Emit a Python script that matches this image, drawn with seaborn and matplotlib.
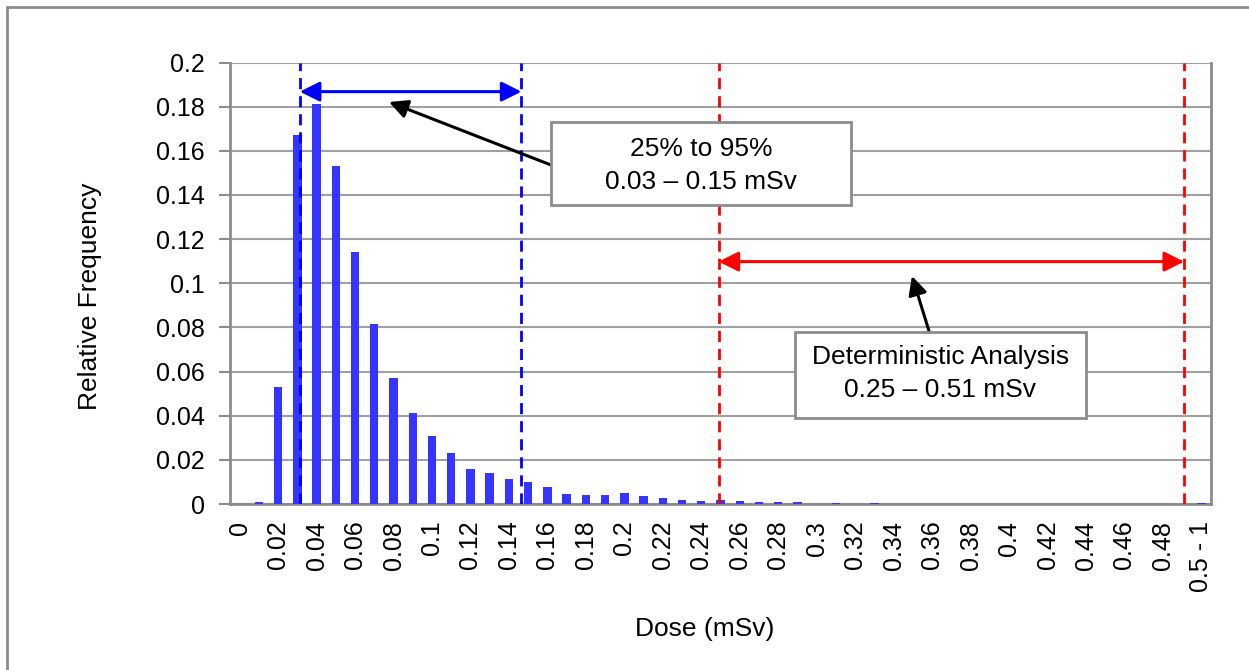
import matplotlib
matplotlib.use("Agg")
import matplotlib.pyplot as plt
import seaborn as sns
import pandas as pd
from matplotlib.patches import Rectangle, FancyArrowPatch
from matplotlib.lines import Line2D

# ---- data ----
dose_labels = ["0", "0.01", "0.02", "0.03", "0.04", "0.05", "0.06", "0.07", "0.08", "0.09",
               "0.1", "0.11", "0.12", "0.13", "0.14", "0.15", "0.16", "0.17", "0.18", "0.19",
               "0.2", "0.21", "0.22", "0.23", "0.24", "0.25", "0.26", "0.27", "0.28", "0.29",
               "0.3", "0.31", "0.32", "0.33", "0.34", "0.35", "0.36", "0.37", "0.38", "0.39",
               "0.4", "0.41", "0.42", "0.43", "0.44", "0.45", "0.46", "0.47", "0.48", "0.49",
               "0.5 - 1"]
rel_freq = [0.0, 0.001, 0.053, 0.167, 0.181, 0.153, 0.114, 0.0815, 0.057, 0.041,
            0.031, 0.023, 0.016, 0.014, 0.0115, 0.010, 0.0078, 0.0044, 0.0040, 0.0040,
            0.0048, 0.0035, 0.0026, 0.0018, 0.0014, 0.0016, 0.0012, 0.0007, 0.0007, 0.0011,
            0.0002, 0.0006, 0.0001, 0.0003, 0.0001, 0.0001, 0.0001, 0.0, 0.0001, 0.0,
            0.0001, 0.0, 0.0, 0.0001, 0.0, 0.0, 0.0, 0.0001, 0.0, 0.0,
            0.0006]
y_ticks = [0, 0.02, 0.04, 0.06, 0.08, 0.1, 0.12, 0.14, 0.16, 0.18, 0.2]
y_tick_labels = ["0", "0.02", "0.04", "0.06", "0.08", "0.1", "0.12", "0.14", "0.16", "0.18", "0.2"]

# annotation ranges (in category units)
pct_range = (3.13, 14.65)
det_range = (24.9, 49.1)
pct_arrow_y = 0.1868
det_arrow_y = 0.1098

df = pd.DataFrame({"dose": dose_labels, "freq": rel_freq})

sns.set_theme(style="white")
plt.rcParams["font.family"] = ["Liberation Sans", "DejaVu Sans"]
plt.rcParams["text.color"] = "black"
plt.rcParams["axes.labelcolor"] = "black"
plt.rcParams["xtick.color"] = "black"
plt.rcParams["ytick.color"] = "black"

W, H = 1249, 670
fig = plt.figure(figsize=(W / 100, H / 100), dpi=100)
ax = fig.add_axes([230 / W, 1 - 504 / H, (1211 - 230) / W, (504 - 62.5) / H])

grey = "#8c8c8c"
sns.barplot(data=df, x="dose", y="freq", order=dose_labels, color="#3535ff",
            saturation=1, width=0.44, linewidth=0, ax=ax, zorder=3)

ax.set_xlim(-0.5, len(dose_labels) - 0.5)
ax.set_ylim(0, 0.2)
ax.set_yticks(y_ticks)
ax.set_yticklabels(y_tick_labels, fontsize=18)
ax.yaxis.grid(True, color="#a0a0a0", lw=1.5, zorder=0)
ax.set_axisbelow(True)

# x ticks: marks at category boundaries, labels on every other category
ax.set_xticks([i - 0.5 for i in range(len(dose_labels) + 1)])
ax.set_xticklabels([])
ax.set_xticks(list(range(0, len(dose_labels), 2)), minor=True)
ax.set_xticklabels([dose_labels[i] for i in range(0, len(dose_labels), 2)],
                   minor=True, rotation=90, fontsize=18, va="top")
ax.tick_params(axis="x", which="major", length=7, width=1.5, color=grey, direction="out")
ax.tick_params(axis="x", which="minor", length=0, pad=12)
ax.tick_params(axis="y", length=8, width=1.5, color=grey, direction="out", pad=10, left=True)

for s in ["left", "bottom", "right"]:
    ax.spines[s].set_visible(True)
    ax.spines[s].set_color(grey)
    ax.spines[s].set_linewidth(2)
ax.spines["top"].set_visible(False)

ax.set_xlabel("Dose (mSv)", fontsize=19)
ax.set_ylabel("Relative Frequency", fontsize=19)
ax.xaxis.set_label_coords(0.484, -0.255)
ax.yaxis.set_label_coords(-0.13, 0.47)

# dashed vertical lines
for xv in pct_range:
    ax.axvline(xv, color="#0000ff", lw=2, ls=(0, (4, 2.5)), zorder=4)
for xv in det_range:
    ax.axvline(xv, color="#ff0000", lw=2, ls=(0, (4, 2.5)), zorder=4)

# double headed arrows
ax.annotate("", xy=(pct_range[0], pct_arrow_y), xytext=(pct_range[1], pct_arrow_y),
            arrowprops=dict(arrowstyle="<|-|>", color="#0000ff", lw=2.2,
                            mutation_scale=30, shrinkA=0, shrinkB=0), zorder=5)
ax.annotate("", xy=(det_range[0], det_arrow_y), xytext=(det_range[1], det_arrow_y),
            arrowprops=dict(arrowstyle="<|-|>", color="#ff0000", lw=2.2,
                            mutation_scale=30, shrinkA=0, shrinkB=0), zorder=5)

# black pointer arrows (figure pixel coords)
def fx(px):
    return px / W

def fy(py):
    return 1 - py / H

for (x0, y0, x1, y1) in [(551, 165, 389, 102), (929, 331, 912, 276)]:
    arr = FancyArrowPatch((fx(x0), fy(y0)), (fx(x1), fy(y1)), transform=fig.transFigure,
                          arrowstyle="-|>", mutation_scale=28, color="black", lw=2.2,
                          shrinkA=0, shrinkB=0, zorder=6)
    fig.patches.append(arr)

# text boxes
boxes = [((551, 122, 851, 205), ["25% to 95%", "0.03 – 0.15 mSv"], (149, 182)),
         ((795, 332, 1086, 418), ["Deterministic Analysis", "0.25 – 0.51 mSv"], (357, 390))]
for (x0, y0, x1, y1), lines, ys in boxes:
    rect = Rectangle((fx(x0), fy(y1)), fx(x1) - fx(x0), fy(y0) - fy(y1),
                     transform=fig.transFigure, facecolor="white", edgecolor=grey,
                     lw=2, zorder=7)
    fig.patches.append(rect)
    cx = (x0 + x1) / 2
    for t, yy in zip(lines, ys):
        fig.text(fx(cx), fy(yy), t, ha="center", va="center", fontsize=19, zorder=8)

# outer chart border
fig.lines.append(Line2D([fx(7), fx(7)], [fy(7), 0], transform=fig.transFigure,
                        color=grey, lw=2))
fig.lines.append(Line2D([fx(7), 1], [fy(7), fy(7)], transform=fig.transFigure,
                        color=grey, lw=2))

fig.savefig("out.png", dpi=100)
